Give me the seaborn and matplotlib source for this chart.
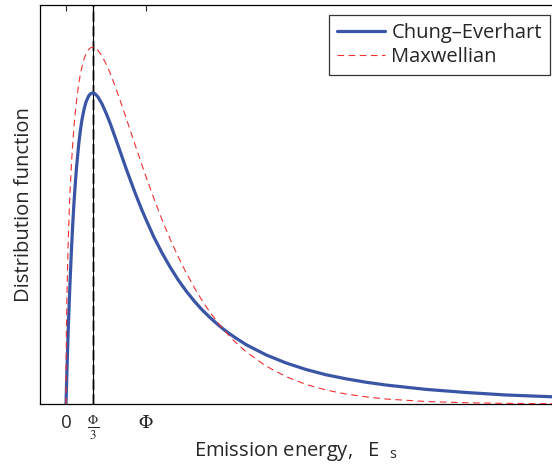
import numpy as np
import pandas as pd
import seaborn as sns
import matplotlib.pyplot as plt

# Energia em unidades de Phi, distribuicao em unidades arbitrarias (pico Chung-Everhart = 1)
energy = [0, 0.001, 0.0025, 0.005, 0.01, 0.02, 0.03, 0.04, 0.05, 0.07, 0.085, 0.1, 0.115,
          0.13, 0.16, 0.18, 0.2, 0.225, 0.25, 0.28, 0.3, 0.31, 1/3, 0.36, 0.38, 0.4, 0.45,
          0.5, 0.55, 0.6, 0.65, 0.7, 0.75, 0.8, 0.85, 0.9, 0.95, 1.0, 1.1, 1.2, 1.3, 1.4,
          1.5, 1.6, 1.7, 1.8, 1.9, 2.0, 2.1, 2.25, 2.5, 2.75, 3.0, 3.25, 3.5, 3.75, 4.0,
          4.5, 5.0, 5.5, 6.1]
chung_everhart = [0, 0.009, 0.023, 0.046, 0.091, 0.175, 0.253, 0.324, 0.390, 0.506, 0.582,
                  0.648, 0.705, 0.756, 0.838, 0.880, 0.915, 0.947, 0.971, 0.989, 0.996,
                  0.998, 1.0, 0.998, 0.993, 0.987, 0.965, 0.936, 0.904, 0.868, 0.832, 0.795,
                  0.758, 0.723, 0.688, 0.655, 0.623, 0.593, 0.536, 0.486, 0.441, 0.400,
                  0.364, 0.332, 0.303, 0.278, 0.255, 0.234, 0.216, 0.191, 0.158, 0.132,
                  0.111, 0.094, 0.081, 0.070, 0.061, 0.047, 0.037, 0.029, 0.023]
maxwellian = [0, 0.103, 0.163, 0.230, 0.323, 0.450, 0.542, 0.617, 0.680, 0.780, 0.841,
              0.892, 0.935, 0.972, 1.031, 1.061, 1.085, 1.109, 1.126, 1.139, 1.144, 1.146,
              1.147, 1.145, 1.142, 1.137, 1.119, 1.094, 1.065, 1.032, 0.996, 0.959, 0.921,
              0.882, 0.844, 0.806, 0.768, 0.731, 0.660, 0.593, 0.531, 0.475, 0.423, 0.376,
              0.333, 0.295, 0.261, 0.231, 0.203, 0.168, 0.122, 0.088, 0.063, 0.045, 0.032,
              0.023, 0.016, 0.008, 0.004, 0.002, 0.001]
tick_pos = [0, 1/3, 1]
tick_labels = ["0", r"$\frac{\Phi}{3}$", r"$\Phi$"]

df = pd.DataFrame({'E': energy * 2,
                   'f': chung_everhart + maxwellian,
                   'model': ['Chung\u2013Everhart'] * len(energy) + ['Maxwellian'] * len(energy)})

sns.set_style("white")
plt.rcParams['font.family'] = ['Open Sans', 'DejaVu Sans']
plt.rcParams['mathtext.fontset'] = 'stix'

fig = plt.figure(figsize=(5.52, 4.68), dpi=100)
ax = fig.add_axes([40/552, 64/468, 512/552, 399/468])

# linha vertical em Phi/3
ax.axvline(1/3, color='gray', ls='--', lw=2, alpha=0.8, zorder=1)
ax.axvline(1/3, color='black', lw=0.8, zorder=2)

sns.lineplot(data=df, x='E', y='f', hue='model', style='model',
             palette={'Chung\u2013Everhart': '#3a55a6', 'Maxwellian': '#f03030'},
             dashes={'Chung\u2013Everhart': '', 'Maxwellian': (6, 4)},
             size='model', sizes={'Chung\u2013Everhart': 2.3, 'Maxwellian': 0.8},
             estimator=None, sort=False, ax=ax, zorder=3)

ax.set_xlim(-0.325, 6.075)
ax.set_ylim(0, 1.283)
ax.set_xticks(tick_pos)
ax.set_xticklabels(tick_labels, fontsize=13.5)
ax.set_yticks([])
ax.tick_params(axis='x', direction='in', top=True, length=4, width=0.8, pad=7)
for s in ['left', 'bottom', 'top']:
    ax.spines[s].set_color('black')
    ax.spines[s].set_linewidth(0.9)
ax.spines['right'].set_visible(False)

ax.set_xlabel(r"Emission energy,   E  ${}_{\mathregular{s}}$", fontsize=14.5, labelpad=-1)
ax.set_ylabel("Distribution function", fontsize=14.5, labelpad=4)

handles, labels = ax.get_legend_handles_labels()
leg = ax.legend(handles, labels, loc='upper right', bbox_to_anchor=(550/552, 453/468),
                bbox_transform=fig.transFigure, borderaxespad=0, fontsize=14.5,
                frameon=True, fancybox=False, edgecolor='black', handlelength=2.4,
                borderpad=0.4, labelspacing=0.2, handletextpad=0.3)
leg.get_frame().set_linewidth(0.9)

plt.savefig('out.png', dpi=100)
